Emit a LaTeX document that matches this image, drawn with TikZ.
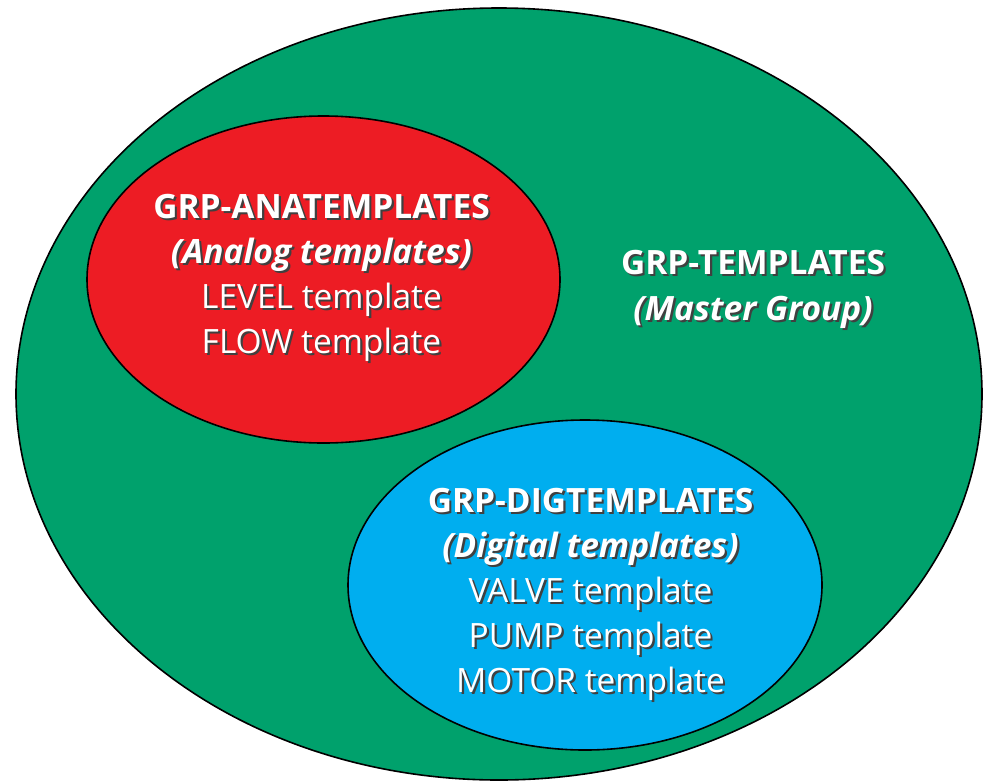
\documentclass[tikz,border=0pt]{standalone}
\usepackage{fontspec}
\setmainfont{Open Sans}
\definecolor{grpgreen}{RGB}{0,161,108}
\definecolor{grpred}{RGB}{237,28,36}
\definecolor{grpblue}{RGB}{0,174,239}
\newcommand\shd[1]{\leavevmode\rlap{\kern2.2pt\raisebox{-2.2pt}{\color{black!75}#1}}{\color{white}#1}}
\begin{document}
\begin{tikzpicture}[x=1pt,y=-1pt,
  blob/.style={draw=black,line width=1.6pt},
  lbl/.style={align=center,inner sep=0pt,text=white}]
\useasboundingbox (0,0) rectangle (984,782);
\fill[white] (0,0) rectangle (984,782);
\draw[blob,fill=grpgreen] (499,394) ellipse [x radius=483,y radius=386];
\draw[blob,fill=grpred] (323.5,279.5) ellipse [x radius=236.5,y radius=163.5];
\draw[blob,fill=grpblue] (585,585) ellipse [x radius=237,y radius=165];
\node[lbl,font=\fontsize{33.5}{45}\selectfont] (ana) at (321.5,278.5)
 {\shd{\bfseries GRP-ANATEMPLATES}\\\shd{\bfseries\itshape (Analog templates)}\\\shd{LEVEL template}\\\shd{FLOW template}};
\node[lbl,font=\fontsize{33.5}{46}\selectfont] (master) at (753,290.5)
 {\shd{\bfseries GRP-TEMPLATES}\\\shd{\bfseries\itshape (Master Group)}};
\node[lbl,font=\fontsize{33.5}{45}\selectfont] (dig) at (590.5,595.5)
 {\shd{\bfseries GRP-DIGTEMPLATES}\\\shd{\bfseries\itshape (Digital templates)}\\\shd{VALVE template}\\\shd{PUMP template}\\\shd{MOTOR template}};
\end{tikzpicture}
\end{document}
